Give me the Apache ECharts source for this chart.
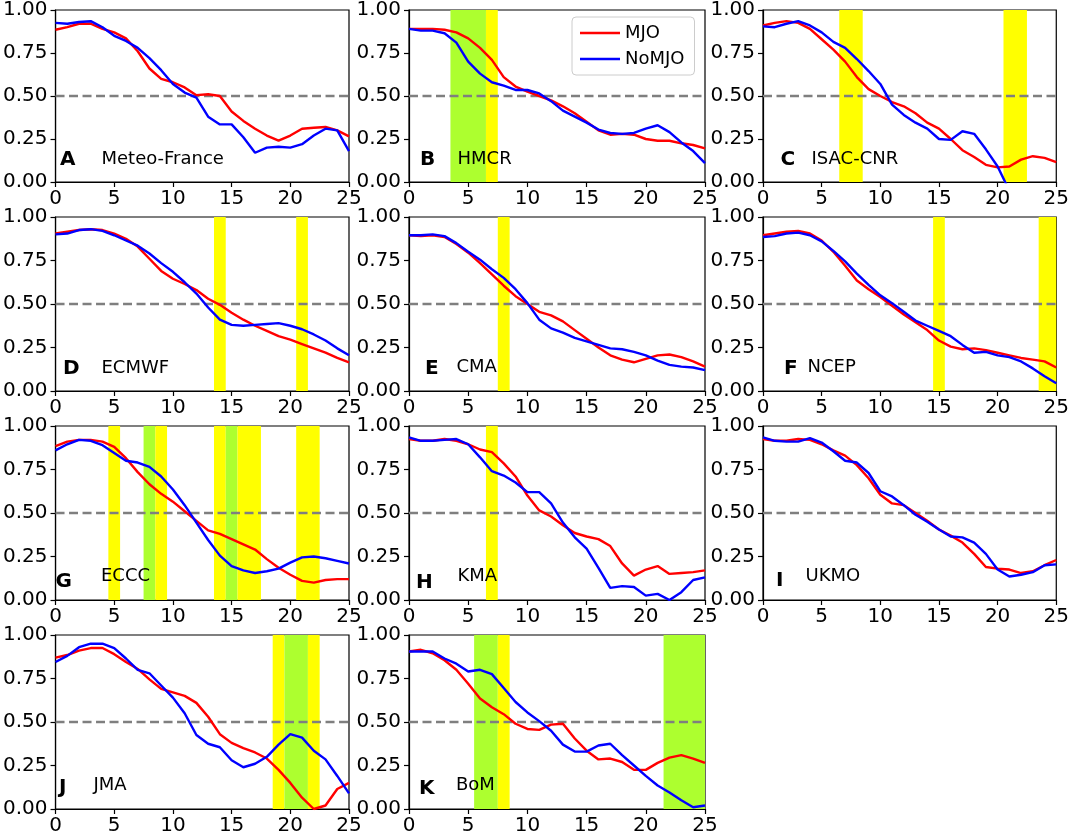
<!DOCTYPE html>
<html><head><meta charset="utf-8">
<script src="https://cdn.jsdelivr.net/npm/echarts@6/dist/echarts.min.js"></script>
<style>html,body{margin:0;padding:0;background:#fff}#c{width:1072px;height:837px}</style>
</head><body><div id="c"></div>
<script>
// ---------- data ----------
const days = [0,1,2,3,4,5,6,7,8,9,10,11,12,13,14,15,16,17,18,19,20,21,22,23,24,25];
const panelLetters = ['A','B','C','D','E','F','G','H','I','J','K'];
const centres = ['Meteo-France','HMCR','ISAC-CNR','ECMWF','CMA','NCEP','ECCC','KMA','UKMO','JMA','BoM'];
const seriesNames = ['MJO','NoMJO'];
const threshold = 0.5;
const xTickStep = 5;
const yTickStep = 0.25;

const mjoA   = [0.885,0.90,0.92,0.92,0.89,0.87,0.835,0.76,0.66,0.60,0.58,0.55,0.505,0.51,0.50,0.41,0.355,0.31,0.27,0.24,0.27,0.31,0.315,0.32,0.30,0.265];
const noMjoA = [0.925,0.92,0.93,0.935,0.90,0.85,0.82,0.78,0.72,0.65,0.57,0.52,0.49,0.38,0.335,0.335,0.26,0.17,0.20,0.205,0.20,0.22,0.27,0.31,0.30,0.18];
const mjoB   = [0.89,0.89,0.89,0.885,0.87,0.835,0.78,0.71,0.61,0.555,0.525,0.50,0.475,0.44,0.40,0.35,0.30,0.275,0.28,0.275,0.25,0.24,0.24,0.225,0.215,0.195];
const noMjoB = [0.89,0.88,0.88,0.865,0.81,0.70,0.63,0.58,0.56,0.535,0.535,0.515,0.47,0.415,0.38,0.345,0.305,0.285,0.28,0.285,0.31,0.33,0.29,0.23,0.18,0.11];
const mjoC   = [0.91,0.925,0.935,0.925,0.89,0.83,0.77,0.70,0.61,0.54,0.50,0.465,0.44,0.40,0.345,0.31,0.25,0.185,0.145,0.10,0.085,0.09,0.13,0.15,0.14,0.115];
const noMjoC = [0.905,0.90,0.92,0.935,0.91,0.87,0.815,0.78,0.715,0.645,0.57,0.45,0.39,0.345,0.31,0.25,0.245,0.295,0.28,0.19,0.09,-0.05,null,null,null,null];
const mjoD   = [0.905,0.915,0.925,0.93,0.925,0.905,0.875,0.83,0.76,0.69,0.645,0.615,0.58,0.53,0.495,0.45,0.41,0.375,0.345,0.315,0.295,0.27,0.245,0.22,0.19,0.165];
const noMjoD = [0.90,0.905,0.925,0.93,0.92,0.895,0.865,0.835,0.79,0.735,0.685,0.625,0.56,0.48,0.41,0.38,0.375,0.38,0.385,0.39,0.375,0.355,0.325,0.29,0.245,0.205];
const mjoE   = [0.895,0.89,0.895,0.885,0.845,0.795,0.735,0.67,0.605,0.545,0.50,0.455,0.435,0.40,0.35,0.30,0.25,0.205,0.18,0.165,0.185,0.205,0.21,0.195,0.17,0.14];
const noMjoE = [0.895,0.895,0.90,0.89,0.85,0.80,0.755,0.70,0.65,0.585,0.505,0.41,0.36,0.335,0.305,0.285,0.265,0.245,0.24,0.225,0.205,0.175,0.15,0.14,0.135,0.12];
const mjoF   = [0.895,0.905,0.915,0.92,0.905,0.865,0.80,0.72,0.635,0.585,0.54,0.49,0.44,0.395,0.35,0.29,0.255,0.24,0.245,0.235,0.22,0.205,0.19,0.18,0.17,0.135];
const noMjoF = [0.885,0.89,0.905,0.91,0.895,0.86,0.805,0.745,0.675,0.61,0.55,0.505,0.455,0.405,0.375,0.345,0.315,0.265,0.22,0.225,0.205,0.195,0.17,0.13,0.085,0.045];
const mjoG   = [0.885,0.91,0.92,0.92,0.91,0.88,0.815,0.735,0.665,0.61,0.565,0.51,0.455,0.40,0.38,0.35,0.32,0.29,0.235,0.185,0.145,0.11,0.10,0.115,0.12,0.12];
const noMjoG = [0.86,0.895,0.92,0.915,0.89,0.845,0.80,0.79,0.765,0.71,0.635,0.545,0.445,0.345,0.255,0.195,0.17,0.155,0.165,0.18,0.215,0.245,0.25,0.24,0.225,0.21];
const mjoH   = [0.925,0.915,0.915,0.925,0.915,0.895,0.865,0.85,0.785,0.71,0.60,0.515,0.48,0.43,0.385,0.365,0.35,0.31,0.21,0.14,0.175,0.195,0.15,0.155,0.16,0.17];
const noMjoH = [0.935,0.915,0.915,0.92,0.925,0.895,0.82,0.74,0.715,0.675,0.62,0.62,0.555,0.445,0.36,0.295,0.185,0.07,0.08,0.075,0.025,0.035,0.0,0.045,0.115,0.13];
const mjoI   = [0.925,0.915,0.915,0.925,0.92,0.895,0.86,0.83,0.775,0.70,0.605,0.555,0.545,0.50,0.455,0.405,0.37,0.33,0.265,0.19,0.18,0.175,0.155,0.165,0.20,0.23];
const noMjoI = [0.935,0.915,0.91,0.91,0.93,0.905,0.855,0.80,0.79,0.73,0.625,0.595,0.545,0.49,0.45,0.405,0.365,0.36,0.33,0.265,0.175,0.135,0.145,0.16,0.20,0.205];
const mjoJ   = [0.87,0.885,0.91,0.925,0.925,0.89,0.845,0.805,0.745,0.69,0.67,0.65,0.61,0.53,0.43,0.38,0.35,0.325,0.29,0.225,0.15,0.065,0.0,0.02,0.115,0.15];
const noMjoJ = [0.845,0.88,0.93,0.95,0.95,0.925,0.865,0.80,0.78,0.71,0.64,0.55,0.425,0.375,0.355,0.28,0.24,0.26,0.30,0.37,0.43,0.41,0.335,0.285,0.19,0.09];
const mjoK   = [0.905,0.915,0.895,0.855,0.80,0.72,0.635,0.585,0.545,0.49,0.46,0.455,0.485,0.49,0.405,0.335,0.285,0.29,0.27,0.225,0.225,0.265,0.295,0.31,0.29,0.265];
const noMjoK = [0.905,0.905,0.905,0.865,0.835,0.79,0.80,0.775,0.695,0.615,0.555,0.505,0.45,0.37,0.33,0.33,0.365,0.375,0.31,0.25,0.19,0.135,0.095,0.05,0.01,0.02];

// shaded lead-day ranges: [start, end, kind]  (kind 'G' = green, 'Y' = yellow)
const bandsA = [];
const bandsB = [[3.5,6.5,'G'],[6.5,7.5,'Y']];
const bandsC = [[6.5,8.5,'Y'],[20.5,22.5,'Y']];
const bandsD = [[13.5,14.5,'Y'],[20.5,21.5,'Y']];
const bandsE = [[7.5,8.5,'Y']];
const bandsF = [[14.5,15.5,'Y'],[23.5,25,'Y']];
const bandsG = [[4.5,5.5,'Y'],[7.5,8.5,'G'],[8.5,9.5,'Y'],[13.5,14.5,'Y'],[14.5,15.5,'G'],[15.5,17.5,'Y'],[20.5,22.5,'Y']];
const bandsH = [[6.5,7.5,'Y']];
const bandsI = [];
const bandsJ = [[18.5,19.5,'Y'],[19.5,21.5,'G'],[21.5,22.5,'Y']];
const bandsK = [[5.5,7.5,'G'],[7.5,8.5,'Y'],[21.5,25,'G']];

const mjoAll = [mjoA,mjoB,mjoC,mjoD,mjoE,mjoF,mjoG,mjoH,mjoI,mjoJ,mjoK];
const noMjoAll = [noMjoA,noMjoB,noMjoC,noMjoD,noMjoE,noMjoF,noMjoG,noMjoH,noMjoI,noMjoJ,noMjoK];
const bandsAll = [bandsA,bandsB,bandsC,bandsD,bandsE,bandsF,bandsG,bandsH,bandsI,bandsJ,bandsK];

// ---------- layout / style ----------
const FONT = '"DejaVu Sans", Verdana, sans-serif';
const colLeft = [53, 409, 763];
const rowTop = [8, 217, 426, 635];
const gW = 296, gH = 174;
const bandColor = {G: '#adff2f', Y: '#ffff00'};
const lineColor = ['#ff0000', '#0000ff'];
const letterDx = [7, 11, 17.5, 10, 16, 21, 2.5, 7, 13, 6, 10];
const letterDy = [151.5, 151.5, 151.5, 151.5, 152, 151.5, 156, 157, 154.5, 152.5, 153.5];
const nameDx = [48.5, 48.5, 48.5, 48.5, 47.5, 44.5, 48, 48.5, 42.5, 40.5, 47];
const nameDy = [151, 151, 151, 151, 150, 150, 150, 150.5, 150, 150, 150];

const grids = [], xAxes = [], yAxes = [], series = [], graphics = [];
for (let i = 0; i < mjoAll.length; i++) {
  const L = colLeft[i % 3], T = rowTop[Math.floor(i / 3)];
  grids.push({left: L, top: T, width: gW, height: gH, show: true, borderColor: '#000', borderWidth: 1.2, backgroundColor: 'rgba(0,0,0,0)'});
  xAxes.push({type: 'value', gridIndex: i, min: 0, max: 25, interval: xTickStep,
    axisLine: {show: true, lineStyle: {color: '#000', width: 1.2}},
    axisTick: {show: true, length: 5, lineStyle: {color: '#000', width: 1.2}},
    axisLabel: {fontSize: 20, fontFamily: FONT, color: '#000', margin: 7, showMinLabel: true, showMaxLabel: true},
    splitLine: {show: false}});
  yAxes.push({type: 'value', gridIndex: i, min: 0, max: 1, interval: yTickStep,
    axisLine: {show: true, lineStyle: {color: '#000', width: 1.2}},
    axisTick: {show: true, length: 5, lineStyle: {color: '#000', width: 1.2}},
    axisLabel: {fontSize: 20, fontFamily: FONT, color: '#000', margin: 8, formatter: v => v.toFixed(2)},
    splitLine: {show: false}});
  const thrData = [[0, threshold], [25, threshold]];
  series.push({type: 'line', xAxisIndex: i, yAxisIndex: i, data: thrData, symbol: 'none', silent: true, z: 1,
    lineStyle: {opacity: 0, width: 0},
    markArea: {silent: true, data: bandsAll[i].map(b => [{xAxis: b[0], itemStyle: {color: bandColor[b[2]], opacity: 1}}, {xAxis: b[1]}])}});
  series.push({type: 'line', xAxisIndex: i, yAxisIndex: i, data: thrData, symbol: 'none', silent: true, z: 2,
    lineStyle: {color: '#7f7f7f', width: 2.3, type: [9, 4.5]}});
  [mjoAll[i], noMjoAll[i]].forEach((arr, k) => {
    series.push({name: seriesNames[k], type: 'line', xAxisIndex: i, yAxisIndex: i, symbol: 'none', z: 3, clip: true,
      data: days.map((d, j) => [d, arr[j]]), itemStyle: {color: lineColor[k]}, lineStyle: {color: lineColor[k], width: 2.4}});
  });
  graphics.push({type: 'text', x: L + letterDx[i], y: T + letterDy[i], z: 10,
    style: {text: panelLetters[i], font: 'bold 20px ' + FONT, fill: '#000', verticalAlign: 'middle'}});
  graphics.push({type: 'text', x: L + nameDx[i], y: T + nameDy[i], z: 10,
    style: {text: centres[i], font: '18px ' + FONT, fill: '#000', verticalAlign: 'middle'}});
}

const chart = echarts.init(document.getElementById('c'), null, {renderer: 'canvas'});
chart.setOption({
  animation: false,
  backgroundColor: '#fff',
  grid: grids, xAxis: xAxes, yAxis: yAxes, series: series, graphic: graphics,
  legend: {data: seriesNames.map((n, k) => ({name: n, icon: 'rect', itemStyle: {color: lineColor[k]}})),
    orient: 'vertical', left: 572, top: 17, itemWidth: 40, itemHeight: 2.6, itemGap: 8,
    textStyle: {fontSize: 18, fontFamily: FONT, color: '#000', lineHeight: 18},
    borderColor: '#cccccc', borderWidth: 1, borderRadius: 4, padding: [7, 10, 7, 8], backgroundColor: 'rgba(255,255,255,0.8)'}
});
</script></body></html>
